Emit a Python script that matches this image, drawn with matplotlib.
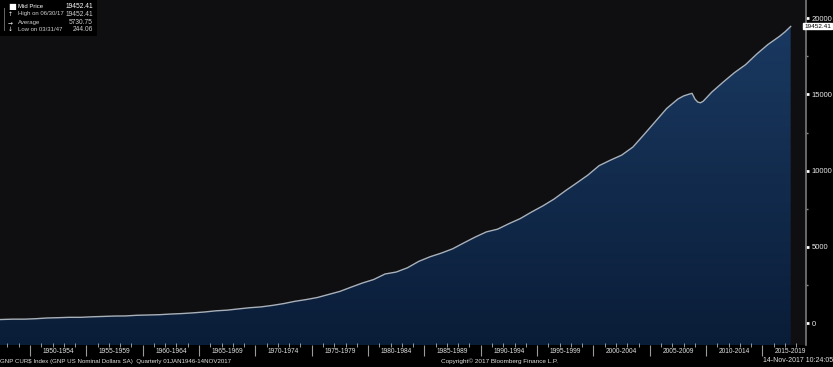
import numpy as np
import matplotlib
matplotlib.use("Agg")
import matplotlib.pyplot as plt
from matplotlib.patches import Rectangle
from matplotlib.lines import Line2D
from matplotlib.transforms import blended_transform_factory
from matplotlib.colors import LinearSegmentedColormap
from matplotlib import font_manager

# ---- data (quarter-end dates as decimal years, GNP in billions USD) ----
dates = [1947.25, 1948.5, 1949.5, 1950.5, 1951.5, 1952.5, 1953.5, 1954.5, 1955.5, 1956.5,
         1957.5, 1958.5, 1959.5, 1960.5, 1961.5, 1962.5, 1963.5, 1964.5, 1965.5, 1966.5,
         1967.5, 1968.5, 1969.5, 1970.5, 1971.5, 1972.5, 1973.5, 1974.5, 1975.5, 1976.5,
         1977.5, 1978.5, 1979.5, 1980.5, 1981.5, 1982.5, 1983.5, 1984.5, 1985.5, 1986.5,
         1987.5, 1988.5, 1989.5, 1990.5, 1991.5, 1992.5, 1993.5, 1994.5, 1995.5, 1996.5,
         1997.5, 1998.5, 1999.5, 2000.5, 2001.5, 2002.5, 2003.5, 2004.5, 2005.5, 2006.5,
         2007.5, 2008.0, 2008.5, 2008.75, 2009.0, 2009.25, 2009.5, 2009.75, 2010.5, 2011.5,
         2012.5, 2013.5, 2014.5, 2015.5, 2016.5, 2017.0, 2017.5]
gnp = [244.06, 272, 271, 300, 348, 368, 392, 392, 426, 450,
       476, 484, 526, 545, 565, 607, 639, 686, 742, 818,
       862, 944, 1021, 1075, 1172, 1290, 1440, 1555, 1690, 1890,
       2090, 2370, 2640, 2870, 3230, 3360, 3640, 4060, 4360, 4600,
       4880, 5270, 5650, 5990, 6170, 6530, 6860, 7290, 7690, 8140,
       8680, 9190, 9710, 10330, 10690, 11020, 11550, 12380, 13230, 14080,
       14700, 14900, 15020, 15070, 14700, 14500, 14450, 14560, 15150, 15800,
       16420, 16950, 17650, 18280, 18800, 19100, 19452.41]

period_starts = list(range(1950, 2020, 5))
period_labels = [f"{y}-{y+4}" for y in period_starts]
y_ticks = [0, 5000, 10000, 15000, 20000]

legend_rows = [("Mid Price", "19452.41"), ("High on 06/30/17", "19452.41"),
               ("Average", "5730.75"), ("Low on 03/31/47", "244.06")]
last_price = "19452.41"
footer_left = "GNP CUR$ Index (GNP US Nominal Dollars SA)  Quarterly 01JAN1946-14NOV2017"
footer_mid = "Copyright\u00a9 2017 Bloomberg Finance L.P."
footer_right = "14-Nov-2017 10:24:05"

names = {f.name for f in font_manager.fontManager.ttflist}
narrow = "Liberation Sans Narrow" if "Liberation Sans Narrow" in names else "Liberation Sans"
plt.rcParams["font.family"] = [narrow, "DejaVu Sans"]

W, H = 833, 367
fig = plt.figure(figsize=(W / 100, H / 100), dpi=100, facecolor="black")
ax = fig.add_axes([0, 22 / H, 806 / W, 345 / H])
ax.set_facecolor("#0f0f11")

x = np.array(dates)
y = np.array(gnp)
ymin, ymax = -1422, 21186
ax.set_xlim(1947.34, 2018.86)
ax.set_ylim(ymin, ymax)

# gradient fill under the curve
poly = ax.fill_between(x, y, ymin, color="none", lw=0)
grad = np.linspace(0, 1, 256).reshape(-1, 1)
cmap = LinearSegmentedColormap.from_list("g", ["#0a1d38", "#1b3b64"])
img = ax.imshow(grad, cmap=cmap, aspect="auto", origin="lower",
                extent=[x[0] - 1, x[-1], ymin, ymax], zorder=1)
img.set_clip_path(poly.get_paths()[0], transform=ax.transData)
ax.plot(x, y, color="#a9b0b8", lw=1.0, zorder=3)

# spines
for s in ["top", "left", "bottom"]:
    ax.spines[s].set_visible(False)
ax.spines["right"].set_color("#7a7a7a")
ax.spines["right"].set_linewidth(1.2)

# y axis on right
ax.yaxis.tick_right()
ax.set_yticks(y_ticks)
ax.set_yticklabels([str(v) for v in y_ticks])
ax.set_yticks([2500, 7500, 12500, 17500], minor=True)
ax.tick_params(axis="y", which="major", length=2.5, width=2, color="white",
               labelcolor="#e8e8e8", labelsize=5.5, pad=1.5)
ax.tick_params(axis="y", which="minor", length=1.2, width=1, color="#888888")

# x axis: period separators (major) and labels at period centers (minor)
ax.set_xticks(period_starts)
ax.set_xticklabels([])
ax.set_xticks([p + 2.5 for p in period_starts], minor=True)
ax.set_xticklabels(period_labels, minor=True)
ax.tick_params(axis="x", which="major", length=8, width=0.8, color="#9a9a9a", direction="out")
ax.tick_params(axis="x", which="minor", length=0, labelcolor="#e0e0e0", labelsize=4.8, pad=2.5)

# yearly small ticks
tr = blended_transform_factory(ax.transData, ax.transAxes)
yrs = [yv for yv in range(1948, 2019) if yv % 5 != 0]
ax.plot(yrs, [0.0] * len(yrs), ls="none", marker="|", ms=2.5, mew=0.7,
        color="#9a9a9a", transform=tr, clip_on=False, zorder=5)

# price tag
fig.text(831 / W, 1 - 26 / H, last_price, fontsize=4.6, color="black", va="center", ha="right",
         bbox=dict(boxstyle="square,pad=0.15", fc="white", ec="white"))

# legend box
fig.patches.append(Rectangle((0, 1 - 36 / H), 97 / W, 36 / H, transform=fig.transFigure,
                             fc="black", ec="none", zorder=10))
fig.lines.append(Line2D([4 / W, 4 / W], [1 - 8 / H, 1 - 30 / H], transform=fig.transFigure,
                        color="#777777", lw=0.6, zorder=11))
ys_px = [6, 14, 22.5, 29.5]
icons = ["\u25a0", "\u2191", "\u2192", "\u2193"]
for (lab, val), yp, ic in zip(legend_rows, ys_px, icons):
    col = "white" if lab == "Mid Price" else "#d0d0d0"
    fig.text(8 / W, 1 - yp / H, ic, fontsize=6 if ic == "\u25a0" else 4.2, color="white",
             family=["DejaVu Sans"], va="center", ha="left", zorder=11)
    fig.text(18 / W, 1 - yp / H, lab, fontsize=4.3, color=col, va="center", ha="left", zorder=11)
    fig.text(93 / W, 1 - yp / H, val, fontsize=4.8, color=col, va="center", ha="right", zorder=11)

# footer
fig.text(0, 1 - 361 / H, footer_left, fontsize=4.4, color="#e0e0e0", va="center", ha="left")
fig.text(499 / W, 1 - 361 / H, footer_mid, fontsize=4.6, color="#e0e0e0", va="center", ha="center")
fig.text(763 / W, 1 - 361 / H, footer_right, fontsize=5.0, color="#e0e0e0", va="center", ha="left")

fig.savefig("out.png", dpi=100, facecolor="black")
